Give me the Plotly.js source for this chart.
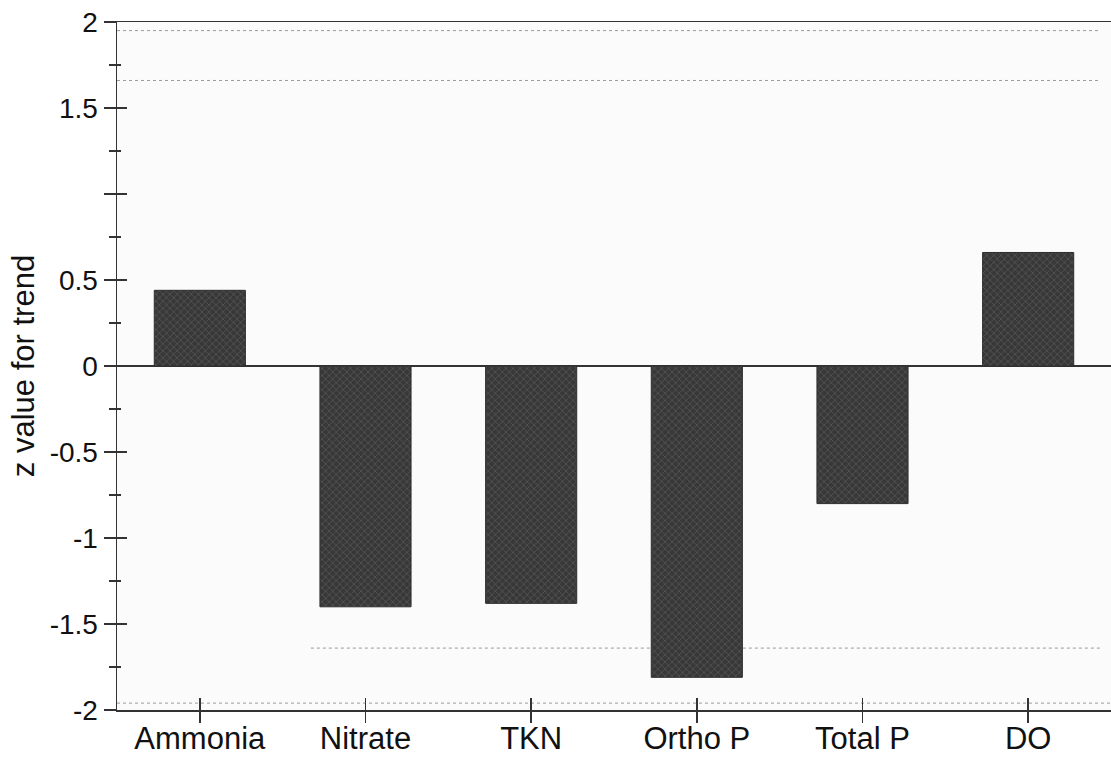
<!DOCTYPE html>
<html>
<head>
<meta charset="utf-8">
<script src="https://cdn.plot.ly/plotly-3.0.1.min.js"></script>
<style>html,body{margin:0;padding:0;background:#fff;}#chart{width:1111px;height:757px;}</style>
</head>
<body>
<div id="chart"></div>
<script>
const categories = ["Ammonia", "Nitrate", "TKN", "Ortho P", "Total P", "DO"];
const zValues = [0.44, -1.40, -1.38, -1.81, -0.80, 0.66];
const yTickVals = [-2, -1.5, -1, -0.5, 0, 0.5, 1, 1.5, 2];
const yTickText = ["-2", "-1.5", "-1", "-0.5", "0", "0.5", "", "1.5", "2"];
const yTitle = "z value for trend";

const axisColor = "#333";
const fontFam = "Liberation Sans, Arial, sans-serif";

const trace = {
  type: "bar",
  x: categories,
  y: zValues,
  width: 0.55,
  marker: {
    color: "#3a3a3a",
    line: {color: "#2e2e2e", width: 1},
    pattern: {shape: "x", fgcolor: "#5a5a5a", bgcolor: "#383838", size: 5, solidity: 0.25}
  },
  hoverinfo: "x+y",
  showlegend: false
};

const dotted = {color: "#9a9a9a", width: 1, dash: "dot"};

const layout = {
  width: 1111,
  height: 757,
  margin: {l: 117, r: 0, t: 22, b: 47},
  paper_bgcolor: "#ffffff",
  plot_bgcolor: "#fbfbfb",
  font: {family: fontFam, size: 28, color: "#111"},
  xaxis: {
    type: "category",
    range: [-0.5, 5.5],
    showline: true, linecolor: axisColor, linewidth: 1.5, mirror: true,
    ticks: "", 
    showgrid: false, zeroline: false,
    tickfont: {family: fontFam, size: 31, color: "#111"}
  },
  xaxis2: {
    type: "category", overlaying: "x", side: "bottom", anchor: "y",
    range: [-0.5, 5.5], matches: "x",
    ticks: "outside", ticklen: 12, tickwidth: 1.5, tickcolor: axisColor,
    showticklabels: false, showgrid: false, zeroline: false, showline: false
  },
  xaxis3: {
    type: "category", overlaying: "x", side: "bottom", anchor: "y",
    range: [-0.5, 5.5], matches: "x",
    ticks: "inside", ticklen: 12, tickwidth: 1.5, tickcolor: axisColor,
    showticklabels: false, showgrid: false, zeroline: false, showline: false
  },
  yaxis: {
    range: [-2, 2],
    tickvals: yTickVals, ticktext: yTickText,
    showline: true, linecolor: axisColor, linewidth: 1.5,
    ticks: "outside", ticklen: 12, tickwidth: 1.5, tickcolor: axisColor,
    minor: {dtick: 0.25, tick0: 0, ticks: "outside", ticklen: 7, tickwidth: 1.2, tickcolor: axisColor, showgrid: false},
    showgrid: false,
    zeroline: true, zerolinecolor: axisColor, zerolinewidth: 1.5,
    tickfont: {family: fontFam, size: 28, color: "#111"},
    title: {text: yTitle, font: {family: fontFam, size: 31, color: "#111"}, standoff: 6}
  },
  yaxis2: {
    range: [-2, 2], overlaying: "y", side: "left", anchor: "x",
    tickvals: yTickVals, showticklabels: false,
    ticks: "inside", ticklen: 10, tickwidth: 1.5, tickcolor: axisColor,
    minor: {dtick: 0.25, tick0: 0, ticks: "inside", ticklen: 4, tickwidth: 1.2, tickcolor: axisColor},
    showgrid: false, zeroline: false, showline: false
  },
  shapes: [
    {type: "line", xref: "paper", yref: "y", x0: 0.0, x1: 0.99, y0: 1.95, y1: 1.95, line: dotted, layer: "below"},
    {type: "line", xref: "paper", yref: "y", x0: 0.0, x1: 0.99, y0: 1.66, y1: 1.66, line: dotted, layer: "below"},
    {type: "line", xref: "paper", yref: "y", x0: 0.195, x1: 0.99, y0: -1.64, y1: -1.64, line: dotted, layer: "below"},
    {type: "line", xref: "paper", yref: "y", x0: 0.0, x1: 1.0, y0: -1.96, y1: -1.96, line: dotted, layer: "below"}
  ]
};

const blank = zValues.map(() => null);
const helper2 = {type: "bar", x: categories, y: blank, xaxis: "x2", yaxis: "y2", showlegend: false, hoverinfo: "skip"};
const helper3 = {type: "bar", x: categories, y: blank, xaxis: "x3", yaxis: "y2", showlegend: false, hoverinfo: "skip"};

Plotly.newPlot("chart", [trace, helper2, helper3], layout, {displayModeBar: false, staticPlot: true});
</script>
</body>
</html>
